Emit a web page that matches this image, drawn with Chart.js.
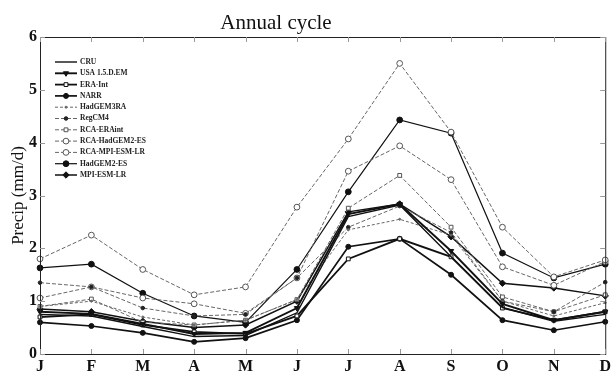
<!DOCTYPE html>
<html>
<head>
<meta charset="utf-8">
<script src="https://cdn.jsdelivr.net/npm/chart.js@4"></script>
<style>
  html, body { margin: 0; padding: 0; background: #fff; }
  #wrap { width: 614px; height: 376px; }
</style>
</head>
<body>
<div id="wrap"><canvas id="c" width="614" height="376"></canvas></div>
<script>
// Monthly precipitation climatology (mm/d)
const months = ['J','F','M','A','M','J','J','A','S','O','N','D'];
const yTicks = [0, 1, 2, 3, 4, 5, 6];

const cru          = [0.75, 0.72, 0.52, 0.33, 0.35, 0.78, 2.60, 2.82, 1.84, 0.88, 0.62, 0.75];
const usa          = [0.80, 0.76, 0.57, 0.38, 0.40, 0.87, 2.65, 2.84, 1.95, 0.95, 0.64, 0.80];
const eraInt       = [0.70, 0.75, 0.55, 0.42, 0.38, 0.72, 1.80, 2.18, 1.84, 0.87, 0.64, 0.80];
const narr         = [0.60, 0.53, 0.40, 0.23, 0.30, 0.64, 2.03, 2.18, 1.50, 0.64, 0.45, 0.61];
const hadgem3ra    = [0.90, 1.00, 0.70, 0.55, 0.64, 1.03, 2.35, 2.55, 2.25, 1.00, 0.72, 0.97];
const regcm4       = [1.35, 1.27, 0.87, 0.72, 0.75, 1.44, 2.40, 2.80, 2.30, 1.00, 0.80, 1.36];
const rcaEraint    = [0.90, 1.04, 0.60, 0.55, 0.64, 1.03, 2.76, 3.38, 2.40, 1.08, 0.80, 1.12];
const rcaHadgem2   = [1.80, 2.25, 1.60, 1.12, 1.27, 2.78, 4.07, 5.50, 4.20, 2.40, 1.46, 1.78];
const rcaMpi       = [1.06, 1.27, 1.06, 0.95, 0.77, 1.44, 3.46, 3.94, 3.30, 1.65, 1.30, 1.75];
const hadgem2es    = [1.63, 1.70, 1.15, 0.72, 0.60, 1.60, 3.07, 4.43, 4.18, 1.91, 1.44, 1.70];
const mpiEsmLr     = [0.85, 0.80, 0.62, 0.50, 0.55, 1.00, 2.69, 2.84, 2.22, 1.34, 1.25, 1.10];

const SOLID = '#111';
const DASH = '#666';
const SERIF = '"Liberation Serif", "DejaVu Serif", serif';

function series(label, data, o) {
  return Object.assign({
    label, data,
    borderColor: SOLID,
    borderWidth: 1.5,
    borderDash: [],
    pointStyle: 'circle',
    pointRadius: 0,
    pointRotation: 0,
    pointBackgroundColor: SOLID,
    pointBorderColor: SOLID,
    pointBorderWidth: 1,
    tension: 0,
    clip: false,
    fill: false
  }, o || {});
}

const datasets = [
  series('CRU', cru, { borderWidth: 1.4 }),
  series('USA 1.5.D.EM', usa, { borderWidth: 1.9, pointStyle: 'triangle', pointRotation: 180, pointRadius: 3 }),
  series('ERA-Int', eraInt, { borderWidth: 1.8, pointStyle: 'rect', pointRadius: 2.7, pointBackgroundColor: '#fff' }),
  series('NARR', narr, { borderWidth: 1.7, pointStyle: 'circle', pointRadius: 2.5 }),
  series('HadGEM3RA', hadgem3ra, { borderColor: DASH, borderWidth: 1, borderDash: [3, 2], pointRadius: 1, pointBackgroundColor: DASH, pointBorderColor: DASH }),
  series('RegCM4', regcm4, { borderColor: DASH, borderWidth: 1, borderDash: [4, 2], pointStyle: 'circle', pointRadius: 1.8, pointBackgroundColor: '#222', pointBorderColor: '#222' }),
  series('RCA-ERAint', rcaEraint, { borderColor: DASH, borderWidth: 1, borderDash: [4, 2], pointStyle: 'rect', pointRadius: 2.7, pointBackgroundColor: '#fff', pointBorderColor: '#555' }),
  series('RCA-HadGEM2-ES', rcaHadgem2, { borderColor: DASH, borderWidth: 1, borderDash: [4, 2], pointStyle: 'circle', pointRadius: 2.9, pointBackgroundColor: '#fff', pointBorderColor: '#555' }),
  series('RCA-MPI-ESM-LR', rcaMpi, { borderColor: DASH, borderWidth: 1, borderDash: [4, 2], pointStyle: 'circle', pointRadius: 2.9, pointBackgroundColor: '#fff', pointBorderColor: '#555' }),
  series('HadGEM2-ES', hadgem2es, { borderWidth: 1.2, pointStyle: 'circle', pointRadius: 2.9 }),
  series('MPI-ESM-LR', mpiEsmLr, { borderWidth: 1.5, pointStyle: 'rectRot', pointRadius: 3.2 })
];

// Box around the plot area, inward tick marks, title and in-plot legend
const decorations = {
  id: 'decorations',
  afterDraw(chart) {
    const { ctx, chartArea: a, scales } = chart;
    const x = scales.x, y = scales.y;
    ctx.save();
    ctx.strokeStyle = '#222';
    ctx.lineWidth = 1;
    ctx.strokeRect(a.left + 0.5, a.top + 0.5, a.right - a.left, a.bottom - a.top);
    ctx.strokeStyle = '#999';
    ctx.beginPath();
    months.forEach((m, i) => {
      const px = Math.round(x.getPixelForValue(i)) + 0.5;
      ctx.moveTo(px, a.bottom); ctx.lineTo(px, a.bottom - 5);
      ctx.moveTo(px, a.top); ctx.lineTo(px, a.top + 5);
    });
    yTicks.forEach(v => {
      const py = Math.round(y.getPixelForValue(v)) + 0.5;
      ctx.moveTo(a.left, py); ctx.lineTo(a.left + 5, py);
      ctx.moveTo(a.right, py); ctx.lineTo(a.right - 5, py);
    });
    ctx.stroke();

    // title
    ctx.fillStyle = '#111';
    ctx.font = '21px ' + SERIF;
    ctx.textAlign = 'center';
    ctx.textBaseline = 'alphabetic';
    ctx.fillText('Annual cycle', 276, 29);

    // legend
    const lx0 = a.left + 15, lx1 = a.left + 37, tx = a.left + 40;
    let ly = a.top + 25;
    ctx.font = 'bold 7.5px ' + SERIF;
    ctx.textAlign = 'left';
    ctx.textBaseline = 'middle';
    chart.data.datasets.forEach(ds => {
      ctx.strokeStyle = ds.borderColor;
      ctx.lineWidth = ds.borderWidth;
      ctx.setLineDash(ds.borderDash);
      ctx.beginPath();
      ctx.moveTo(lx0, ly); ctx.lineTo(lx1, ly);
      ctx.stroke();
      ctx.setLineDash([]);
      if (ds.pointRadius > 0) {
        ctx.fillStyle = ds.pointBackgroundColor;
        ctx.strokeStyle = ds.pointBorderColor;
        ctx.lineWidth = ds.pointBorderWidth;
        Chart.helpers.drawPoint(ctx, {
          pointStyle: ds.pointStyle,
          radius: ds.pointRadius,
          rotation: ds.pointRotation,
          borderWidth: ds.pointBorderWidth
        }, (lx0 + lx1) / 2, ly);
      }
      ctx.fillStyle = '#222';
      ctx.fillText(ds.label, tx, ly);
      ly += 11.3;
    });
    ctx.restore();
  }
};

new Chart(document.getElementById('c'), {
  type: 'line',
  data: { labels: months, datasets },
  options: {
    responsive: false,
    animation: false,
    devicePixelRatio: 1,
    layout: { padding: { top: 37, right: 7, left: 0, bottom: 0 } },
    plugins: { legend: { display: false }, tooltip: { enabled: false }, title: { display: false } },
    scales: {
      x: {
        type: 'category',
        offset: false,
        grid: { display: false, drawTicks: false },
        border: { display: false },
        ticks: {
          color: '#111',
          font: { family: SERIF, size: 16, weight: 'bold' },
          padding: 3,
          maxRotation: 0,
          autoSkip: false
        },
        afterFit(s) { s.height = 22; }
      },
      y: {
        min: 0,
        max: 6,
        grid: { display: false, drawTicks: false },
        border: { display: false },
        afterBuildTicks(s) { s.ticks = yTicks.map(v => ({ value: v })); },
        ticks: {
          color: '#111',
          font: { family: SERIF, size: 16, weight: 'bold' },
          padding: 3
        },
        title: {
          display: true,
          text: 'Precip (mm/d)',
          color: '#111',
          font: { family: SERIF, size: 17 },
          padding: { top: 8, bottom: 0 }
        },
        afterFit(s) { s.width = 40; }
      }
    }
  },
  plugins: [decorations]
});
</script>
</body>
</html>
